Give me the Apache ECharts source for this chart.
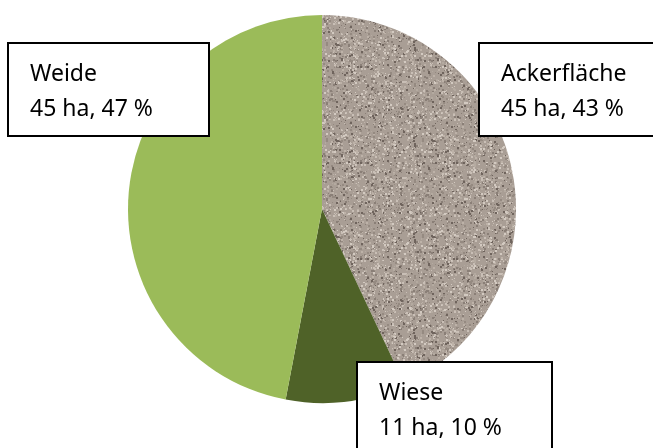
<!DOCTYPE html>
<html>
<head>
<meta charset="utf-8">
<script src="https://cdn.jsdelivr.net/npm/echarts@6/dist/echarts.min.js"></script>
<style>
  html, body { margin: 0; padding: 0; background: #fff; }
  #flaechenChart { width: 653px; height: 448px; }
</style>
</head>
<body>
<div id="flaechenChart"></div>
<script>
// Flächennutzung
var categories = ['Ackerfläche', 'Wiese', 'Weide']
var percentValues = [43, 10, 47]
var hectareValues = [45, 11, 45]

// Kästchen der Beschriftungen (links oben, Inhaltsbreite)
var labelBoxes = [[480, 44, 260], [358, 363, 154], [9, 44, 160]]

// Granit-Muster für die Ackerfläche
function makeGranite () {
  var size = 96
  var cv = document.createElement('canvas')
  cv.width = size
  cv.height = size
  var ctx = cv.getContext('2d')
  ctx.fillStyle = '#a99e95'
  ctx.fillRect(0, 0, size, size)
  var seed = 7
  function rnd () {
    seed = (seed * 16807) % 2147483647
    return (seed - 1) / 2147483646
  }
  var tones = ['#c9bfb6', '#bdb2a8', '#b4aaa0', '#958a81', '#8a7f77', '#d3cac1', '#6f645d']
  for (var i = 0; i < 1500; i++) {
    ctx.fillStyle = tones[Math.floor(rnd() * tones.length)]
    var s = 1 + Math.floor(rnd() * 2)
    ctx.fillRect(Math.floor(rnd() * size), Math.floor(rnd() * size), s, s)
  }
  return cv
}

var colors = [
  { image: makeGranite(), repeat: 'repeat' },
  '#4f6228',
  '#9bbb59'
]

var pieData = categories.map(function (name, i) {
  return {
    name: name,
    value: percentValues[i],
    ha: hectareValues[i],
    itemStyle: { color: colors[i] }
  }
})

var myChart = echarts.init(document.getElementById('flaechenChart'))
var option = {
  animation: false,
  series: [{
    type: 'pie',
    center: [322, 209],
    radius: 194,
    startAngle: 90,
    clockwise: true,
    silent: true,
    itemStyle: { borderWidth: 0 },
    labelLine: { show: false },
    label: {
      show: true,
      position: 'outside',
      formatter: function (p) {
        return p.name + '\n' + p.data.ha + ' ha, ' + p.value + ' %'
      },
      fontFamily: 'Noto Sans',
      fontSize: 23,
      lineHeight: 35,
      color: '#000',
      align: 'left',
      backgroundColor: '#fff',
      borderColor: '#000',
      borderWidth: 2,
      padding: [13, 18, 8, 21],
      width: 160
    },
    labelLayout: function (params) {
      var b = labelBoxes[params.dataIndex]
      return {
        x: b[0],
        y: b[1],
        align: 'left',
        verticalAlign: 'top',
        width: b[2]
      }
    },
    data: pieData
  }]
}
myChart.setOption(option, true)
window.addEventListener('resize', function () {
  myChart.resize()
})
</script>
</body>
</html>
